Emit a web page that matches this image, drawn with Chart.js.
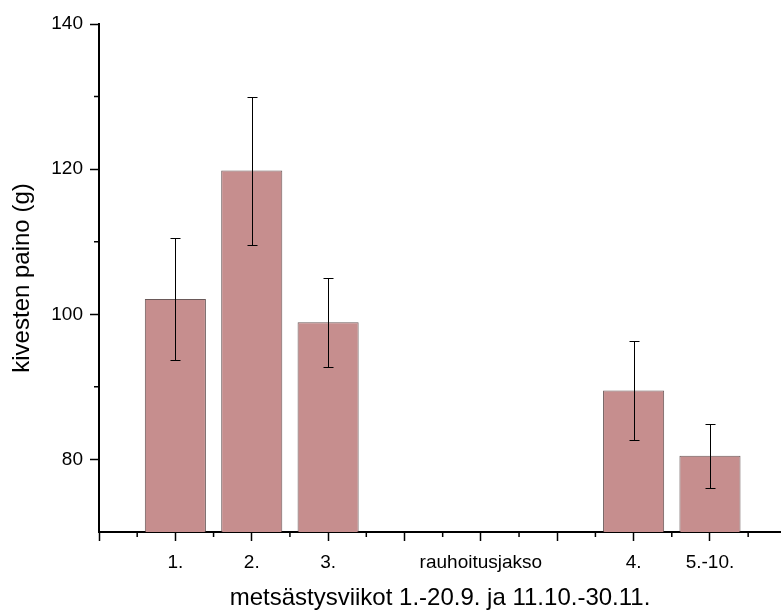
<!DOCTYPE html>
<html>
<head>
<meta charset="utf-8">
<script src="https://cdn.jsdelivr.net/npm/chart.js@4/dist/chart.umd.min.js"></script>
<style>
  html, body { margin: 0; padding: 0; background: #fff; }
  #wrap { width: 781px; height: 612px; }
</style>
</head>
<body>
<div id="wrap"><canvas id="chart"></canvas></div>
<script>
// week positions along the x axis and their labels
const positions = [1, 2, 3, 7, 8]
const tickLabels = ['', '1.', '2.', '3.', '', 'rauhoitusjakso', '', '4.', '5.-10.']
const means = [102.1, 119.8, 98.9, 89.5, 80.5]
const errors = [8.4, 10.2, 6.1, 6.8, 4.4]

const yMajor = [80, 100, 120, 140]
const yMinor = [90, 110, 130]
const xMinor = [0.5, 1.5, 2.5, 3.5, 4.5, 5.5, 6.5, 7.5, 8.5]

const font = "'Liberation Sans', Arial, sans-serif"

// error bars + short minor ticks, both placed through the scales
const extras = {
  id: 'extras',
  afterDatasetsDraw(chart) {
    const ctx = chart.ctx
    const xs = chart.scales.x, ys = chart.scales.y
    ctx.save()
    ctx.strokeStyle = '#000'
    ctx.lineWidth = 1
    positions.forEach((p, i) => {
      const x = Math.round(xs.getPixelForValue(p)) + 0.5
      const top = Math.round(ys.getPixelForValue(means[i] + errors[i])) + 0.5
      const bot = Math.round(ys.getPixelForValue(means[i] - errors[i])) + 0.5
      ctx.beginPath()
      ctx.moveTo(x, top); ctx.lineTo(x, bot)
      ctx.moveTo(x - 5, top); ctx.lineTo(x + 5, top)
      ctx.moveTo(x - 5, bot); ctx.lineTo(x + 5, bot)
      ctx.stroke()
    })
    ctx.restore()
  },
  afterDraw(chart) {
    const ctx = chart.ctx
    const xs = chart.scales.x, ys = chart.scales.y
    const area = chart.chartArea
    ctx.save()
    ctx.strokeStyle = '#000'
    ctx.lineWidth = 1.5
    ctx.beginPath()
    xMinor.forEach(v => {
      const x = xs.getPixelForValue(v)
      ctx.moveTo(x, area.bottom); ctx.lineTo(x, area.bottom + 5)
    })
    yMinor.forEach(v => {
      const y = ys.getPixelForValue(v)
      ctx.moveTo(area.left, y); ctx.lineTo(area.left - 5, y)
    })
    ctx.stroke()
    ctx.restore()
  }
}

new Chart('chart', {
  type: 'bar',
  data: {
    datasets: [{
      data: positions.map((p, i) => ({ x: p, y: means[i] })),
      backgroundColor: '#c68e8e',
      borderColor: 'rgba(80,60,60,0.85)',
      borderWidth: 1,
      categoryPercentage: 1,
      barPercentage: 0.8
    }]
  },
  options: {
    responsive: true,
    maintainAspectRatio: false,
    animation: false,
    layout: { padding: { top: 24, right: 0, left: 0, bottom: 0 } },
    plugins: {
      legend: { display: false },
      tooltip: { enabled: false }
    },
    scales: {
      x: {
        type: 'linear',
        min: 0,
        max: 8.93,
        offset: false,
        grid: { drawOnChartArea: false, offset: false, tickLength: 9, tickColor: '#000', tickWidth: 1.5 },
        border: { color: '#000', width: 2 },
        afterBuildTicks: scale => {
          scale.ticks = tickLabels.map((t, i) => ({ value: i }))
        },
        afterFit: scale => { scale.height = 80 },
        ticks: {
          autoSkip: false,
          maxRotation: 0,
          padding: 10,
          color: '#000',
          font: { family: font, size: 19 },
          callback: v => tickLabels[v]
        },
        title: {
          display: true,
          text: 'metsästysviikot 1.-20.9. ja 11.10.-30.11.',
          color: '#000',
          font: { family: font, size: 24, lineHeight: 1.1 },
          padding: { top: 0, bottom: 0 }
        }
      },
      y: {
        min: 70,
        max: 140,
        grid: { drawOnChartArea: false, tickLength: 9, tickColor: '#000', tickWidth: 1.5 },
        border: { color: '#000', width: 2 },
        afterBuildTicks: scale => {
          scale.ticks = yMajor.map(v => ({ value: v }))
        },
        afterFit: scale => { scale.width = 99 },
        ticks: {
          padding: 7,
          color: '#000',
          font: { family: font, size: 19 }
        },
        title: {
          display: true,
          text: 'kivesten paino (g)',
          color: '#000',
          font: { family: font, size: 24 },
          padding: { top: 8, bottom: 0 }
        }
      }
    }
  },
  plugins: [extras]
})
</script>
</body>
</html>
